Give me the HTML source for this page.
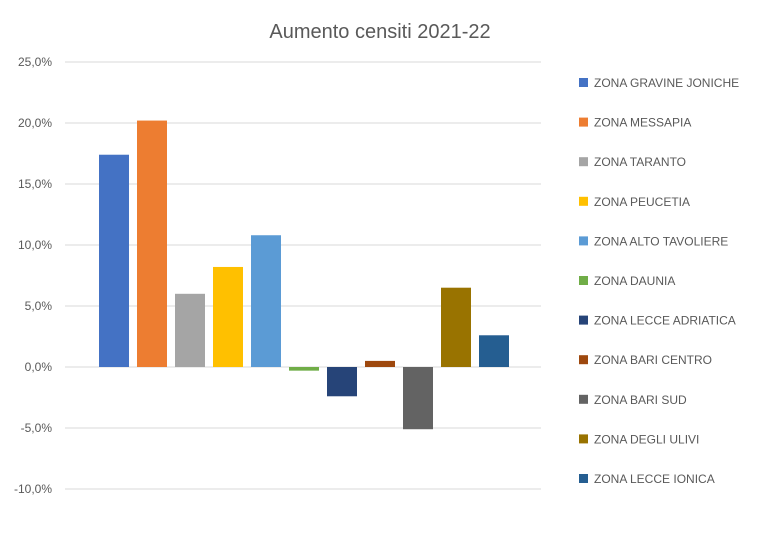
<!DOCTYPE html>
<html><head><meta charset="utf-8"><style>
body{margin:0;background:#fff;font-family:"Liberation Sans",Calibri,sans-serif;}
#c{position:relative;width:757px;height:543px;overflow:hidden;}
</style></head><body>
<div id="c">
<svg id="s" width="757" height="543" xmlns="http://www.w3.org/2000/svg">
<text x="380" y="38" text-anchor="middle" font-size="20" fill="#595959">Aumento censiti 2021-22</text>
</svg></div>
<script>
const categories=["ZONA GRAVINE JONICHE","ZONA MESSAPIA","ZONA TARANTO","ZONA PEUCETIA","ZONA ALTO TAVOLIERE","ZONA DAUNIA","ZONA LECCE ADRIATICA","ZONA BARI CENTRO","ZONA BARI SUD","ZONA DEGLI ULIVI","ZONA LECCE IONICA"];
const values=[17.4,20.2,6.0,8.2,10.8,-0.3,-2.4,0.5,-5.1,6.5,2.6];
const ticks=[25,20,15,10,5,0,-5,-10];
const tickLabels=["25,0%","20,0%","15,0%","10,0%","5,0%","0,0%","-5,0%","-10,0%"];
const colors=["#4472C4","#ED7D31","#A5A5A5","#FFC000","#5B9BD5","#70AD47","#264478","#9E480E","#636363","#997300","#255E91"];
const NS="http://www.w3.org/2000/svg",s=document.getElementById('s');
function y(v){return 367-v*12.2;}
function x(i){return 114+i*38;}
function mk(t,a){const e=document.createElementNS(NS,t);for(const k in a)e.setAttribute(k,a[k]);s.appendChild(e);return e;}
ticks.forEach((t,i)=>{
 const l=mk('line',{x1:65,x2:541,y1:y(t),y2:y(t),stroke:'#D9D9D9','stroke-width':1});
 
 
 const tx=mk('text',{x:52,y:y(t)+4,'text-anchor':'end','font-size':12,fill:'#595959'});
 tx.textContent=tickLabels[i];
 
 
});
values.forEach((v,i)=>{
 const r=mk('rect',{x:x(i)-15,y:Math.min(y(v),y(0)),width:30,height:Math.abs(y(v)-y(0)),fill:colors[i]});
 
 
 const ly=83+i*39.6;
 const sq=mk('rect',{x:579,y:ly-5,width:9,height:9,fill:colors[i]});
 
 
 const t=mk('text',{x:594,y:ly+4,'font-size':12,fill:'#595959'});
 t.textContent=categories[i];
 
 
});
</script></body></html>
